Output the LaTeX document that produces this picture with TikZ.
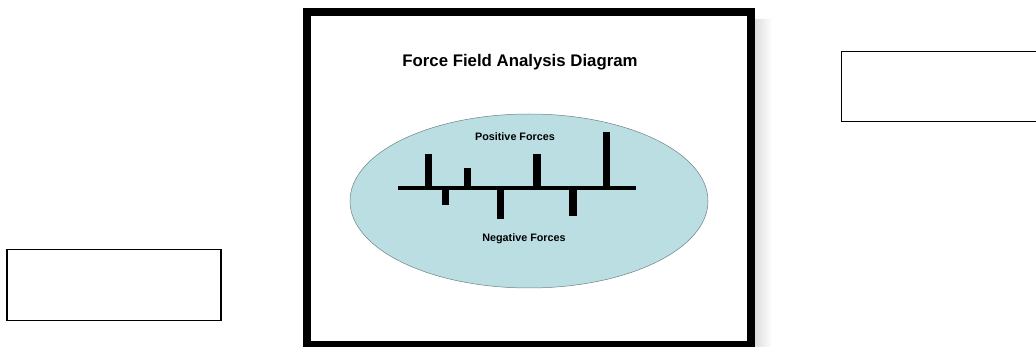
\documentclass[tikz,border=0pt]{standalone}
\usepackage{fontspec}
\setmainfont{Liberation Sans}
\usepackage{xcolor}
\usetikzlibrary{shapes.geometric}

\definecolor{fieldfill}{RGB}{186,222,226}
\definecolor{fieldedge}{RGB}{110,130,132}

\begin{document}
\begin{tikzpicture}[x=1pt,y=-1pt,
 frame/.style={draw=black,line width=8pt,inner sep=0pt},
 blank/.style={draw=black,fill=white,line width=1.4pt,inner sep=0pt,
   minimum width=214pt,minimum height=71pt},
 field/.style={ellipse,draw=fieldedge,fill=fieldfill,line width=.5pt,
   inner sep=0pt,minimum width=358pt,minimum height=174pt},
 heading/.style={font=\bfseries\fontsize{16.8}{19}\selectfont},
 label/.style={font=\bfseries\fontsize{10.8}{13}\selectfont},
 axis/.style={line width=4pt,draw=black},
 force/.style={fill=black}
]
\useasboundingbox (0,0) rectangle (1036,347);
\clip (0,0) rectangle (1036,347);

% faint shadow on the right of the frame
\shade[left color=black!14,right color=white] (754,20) rectangle (772,347);

\node[frame,minimum width=443.5pt,minimum height=333pt] (board) at (528.75,178.5) {};
\node[heading] (title) at (520,62) {Force Field Analysis Diagram};
\node[field] (field) at (529,201) {};
\node[label] (positive) at (515,137) {Positive Forces};
\node[label] (negative) at (524,239) {Negative Forces};

\coordinate (axisleft) at (398,188);
\coordinate (axisright) at (636,188);
\draw[axis] (axisleft) -- (axisright);

% bars: centre / end
\foreach \bx/\by in {428.5/154,445.5/205,467.5/168,500.5/219,537/154,573/216,606.5/132}
  \fill[force] (\bx-3.75,188) rectangle (\bx+3.75,\by);

\node[blank] (leftbox) at (114,285) {};
\node[blank,line width=1pt,minimum height=70pt] (rightbox) at (948,87) {};
\end{tikzpicture}
\end{document}
